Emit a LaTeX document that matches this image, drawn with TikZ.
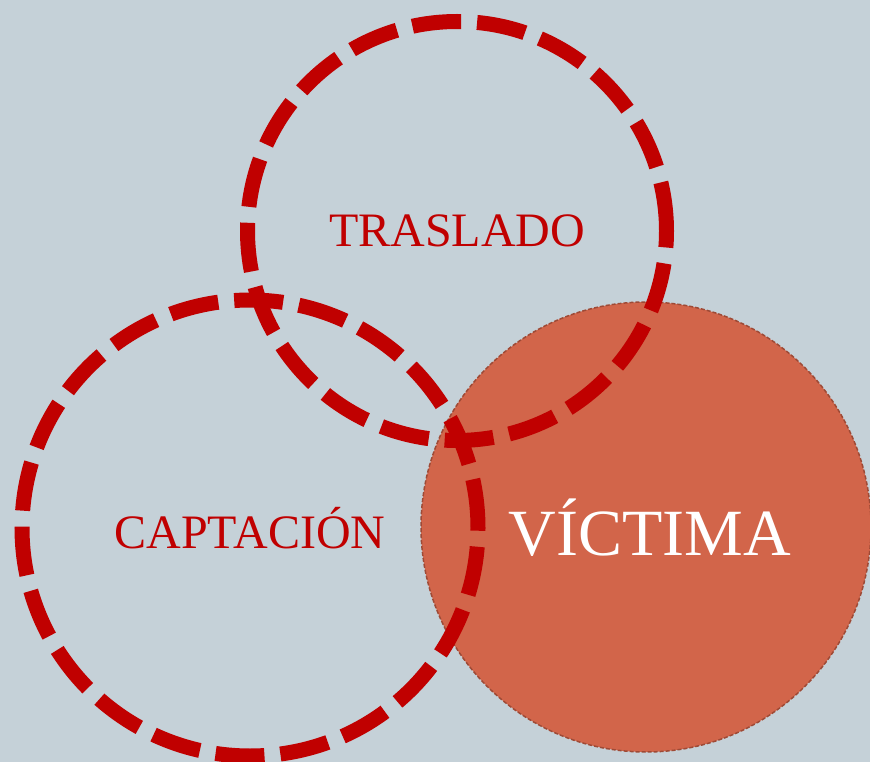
\documentclass[tikz,border=0pt]{standalone}
\usepackage{fontspec}
\setmainfont{Liberation Serif}
\definecolor{bgblue}{HTML}{C5D1D8}
\definecolor{ringred}{HTML}{C00000}
\definecolor{victimfill}{HTML}{D2654A}
\definecolor{victimedge}{HTML}{9E4A36}
\begin{document}
\begin{tikzpicture}[x=1pt,y=-1pt]
\tikzset{ring/.style={circle,draw=ringred,line width=15pt,dash pattern=on 49pt off 16pt,
    inner sep=0pt,text=ringred,font=\fontsize{48}{48}\selectfont}}
\useasboundingbox[fill=bgblue] (0,0) rectangle (870,762);
\node[circle,fill=victimfill,draw=victimedge,line width=1.5pt,dash pattern=on 4pt off 2pt,
    inner sep=0pt,minimum size=450pt] (victima) at (646,527) {};
\node[text=white,font=\fontsize{66}{66}\selectfont] (victimatext) at (650,528) {VÍCTIMA};
\node[ring,minimum size=419pt] (traslado) at (457,231) {TRASLADO};
\node[ring,minimum size=456pt] (captacion) at (250,528) {CAPTACIÓN};
\end{tikzpicture}
\end{document}
